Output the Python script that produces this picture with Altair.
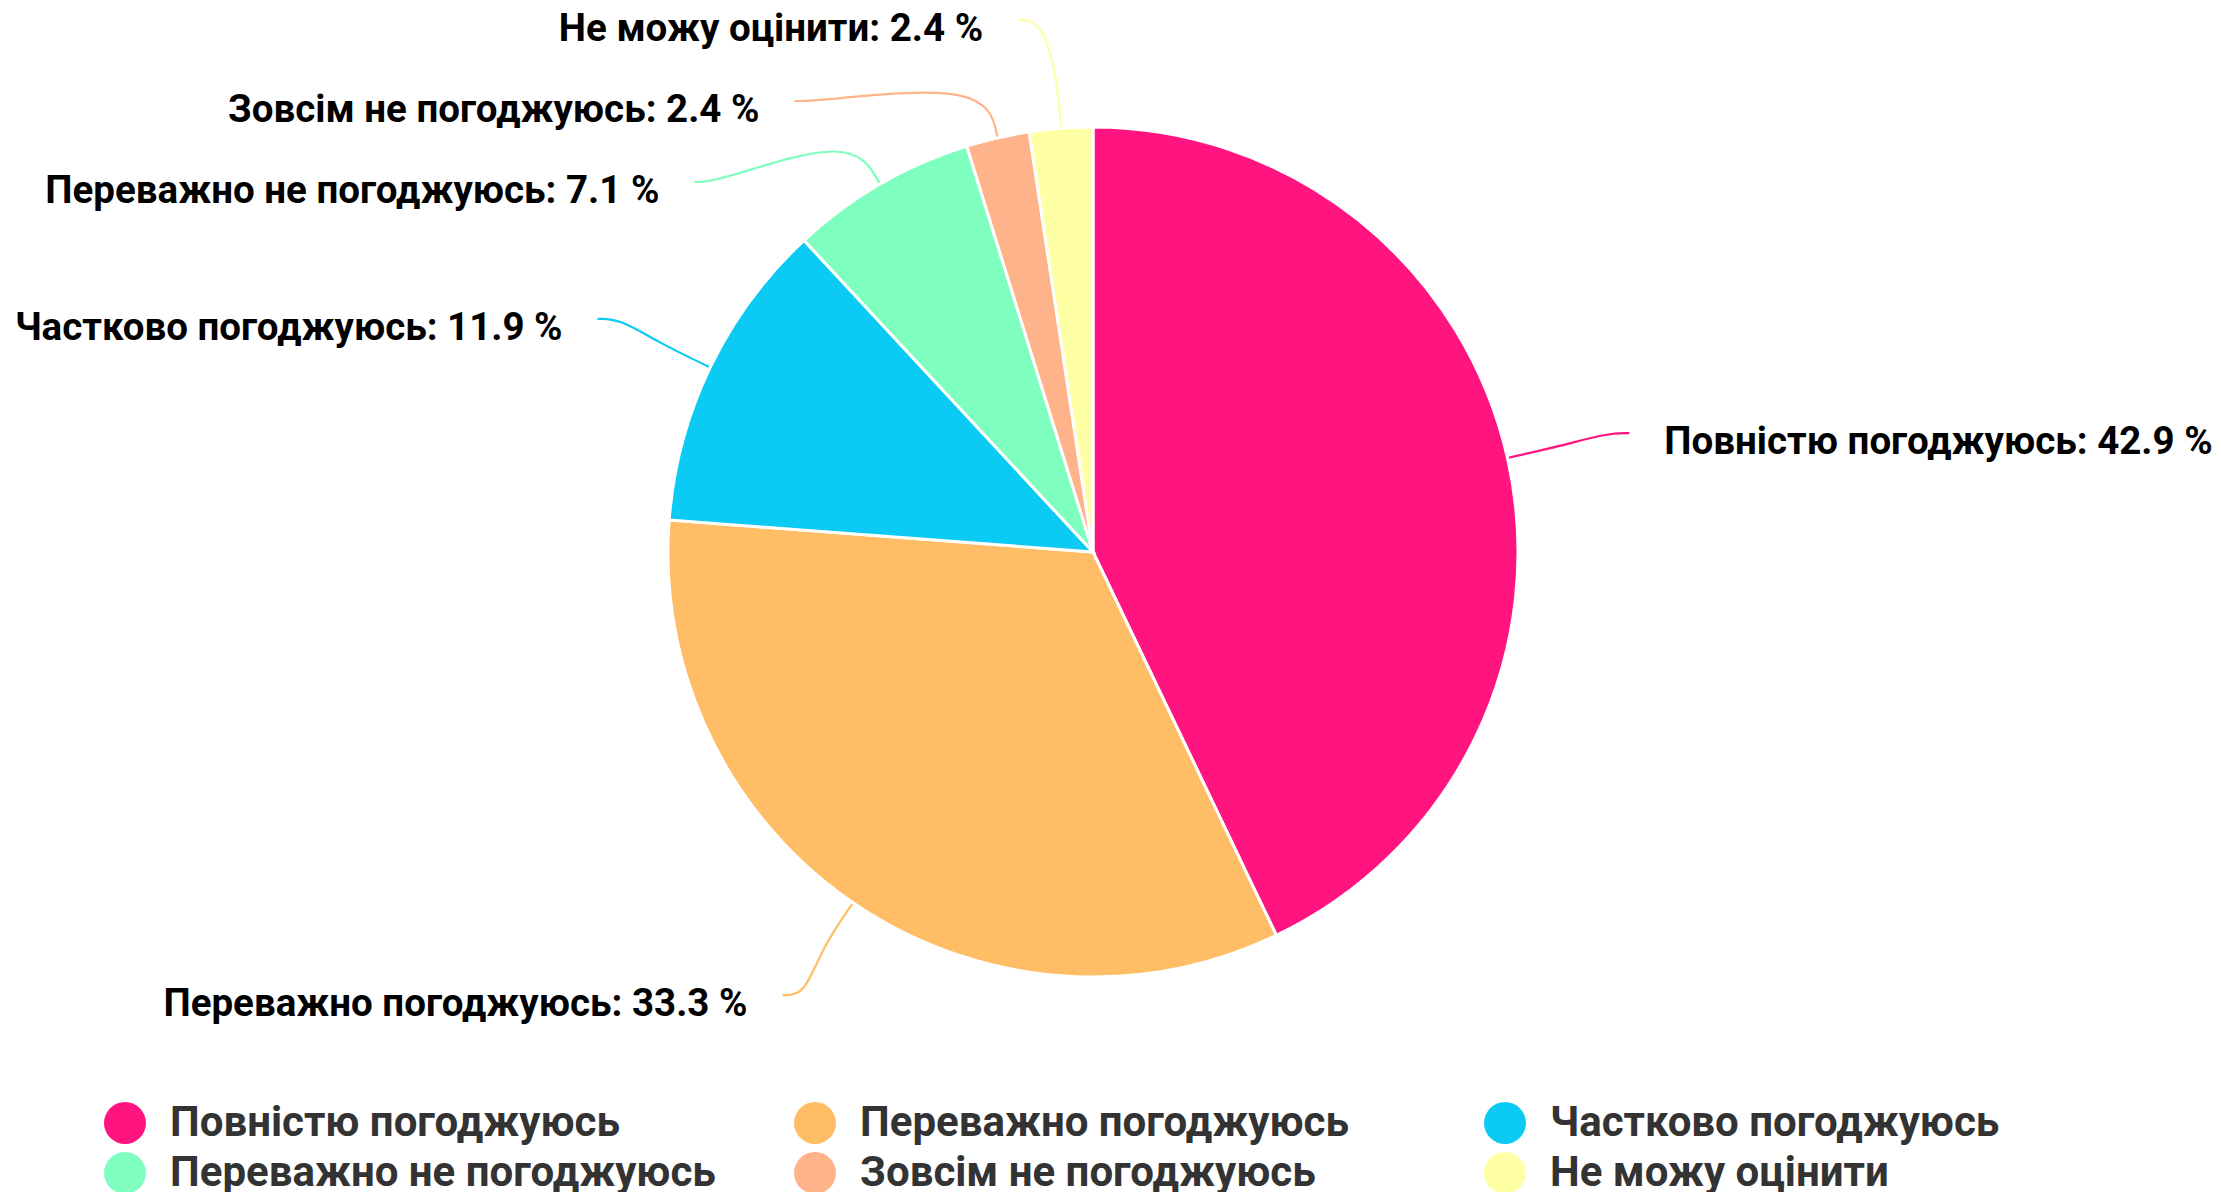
import math
import altair as alt
import pandas as pd

categories = ["Повністю погоджуюсь", "Переважно погоджуюсь", "Частково погоджуюсь",
              "Переважно не погоджуюсь", "Зовсім не погоджуюсь", "Не можу оцінити"]
values = [42.9, 33.3, 11.9, 7.1, 2.4, 2.4]
colors = ["#FF1480", "#FFBE66", "#0BCAF4", "#7FFFBF", "#FFB38A", "#FFFFA6"]

# ---- layout (reference pixel space) ----
M = 8
VW, VH = 2205, 1176
CX, CY, R = 1093, 552, 425          # pie centre / radius
EA, EB = 550, 537                   # ellipse for connector ends
BEND = 28                           # connector break distance
GAP = 35                            # gap between connector end and text
TOP, SPACING = 20, 81               # label distribution
FONT = "Roboto"

total = sum(values)
pie_df = pd.DataFrame({"category": categories, "value": values, "order": range(len(values))})

# compute label placement from the data
rows = []
cum = 0.0
for i, (c, v) in enumerate(zip(categories, values)):
    mid = (cum + v / 2) / total * 2 * math.pi
    cum += v
    s, co = math.sin(mid), math.cos(mid)
    rows.append(dict(category=c, value=v, idx=i, s=s, c=co,
                     side="right" if s > 0 else "left",
                     yE=CY - EB * co))

for side in ("left", "right"):
    grp = sorted([r for r in rows if r["side"] == side], key=lambda r: r["yE"])
    prev = None
    for r in grp:
        y = max(r["yE"], TOP)
        if prev is not None:
            y = max(y, prev + SPACING)
        r["yE"] = y
        prev = y

label_rows, line_rows = [], []
for r in rows:
    sign = 1 if r["side"] == "right" else -1
    dy = (r["yE"] - CY) / EB
    xE = CX + sign * EA * math.sqrt(max(0.0, 1 - dy * dy))
    T = (CX + R * r["s"], CY - R * r["c"])
    Q = (CX + (R + 2 * BEND) * r["s"], CY - (R + 2 * BEND) * r["c"])
    E = (xE, r["yE"])
    E2 = (xE - sign * 22, r["yE"])
    for k, p in enumerate([E, E2, Q, T]):
        line_rows.append(dict(conn=r["category"], k=k, x=p[0], y=p[1]))
    label_rows.append(dict(category=r["category"], side=r["side"],
                           x=xE + sign * GAP, y=r["yE"] + 9,
                           text=f"{r['category']}: {r['value']} %"))

lab_df = pd.DataFrame(label_rows)
line_df = pd.DataFrame(line_rows)

xs = alt.Scale(domain=[M, M + VW], nice=False, zero=False)
ys = alt.Scale(domain=[M, M + VH], nice=False, zero=False, reverse=True)

color_scale = alt.Scale(domain=categories, range=colors)

pie = alt.Chart(pie_df).mark_arc(outerRadius=R, stroke="white", strokeWidth=3).encode(
    theta=alt.Theta("value:Q", stack=True),
    color=alt.Color("category:N", scale=color_scale, sort=categories,
                    legend=alt.Legend(orient="none", legendX=96, legendY=1094, columns=3,
                                      direction="horizontal",
                                      title=None, symbolType="circle", symbolSize=1764,
                                      symbolStrokeWidth=0, labelFont=FONT, labelFontSize=42,
                                      labelFontWeight="bold", labelColor="#333333",
                                      labelOffset=24, columnPadding=78, rowPadding=8,
                                      gridAlign="all", labelLimit=0, padding=0)),
    order=alt.Order("order:Q"),
    x=alt.value(CX - M),
    y=alt.value(CY - M),
)

lines = alt.Chart(line_df).mark_line(interpolate="basis", strokeWidth=2.2).encode(
    x=alt.X("x:Q", scale=xs, axis=None),
    y=alt.Y("y:Q", scale=ys, axis=None),
    stroke=alt.Stroke("conn:N", scale=alt.Scale(domain=categories, range=colors), legend=None),
    detail="conn:N",
    order="k:Q",
)

def text_layer(side, align):
    return alt.Chart(lab_df).transform_filter(alt.datum.side == side).mark_text(
        align=align, baseline="middle", font=FONT, fontSize=38.5, fontWeight="bold", color="#000000"
    ).encode(
        x=alt.X("x:Q", scale=xs, axis=None),
        y=alt.Y("y:Q", scale=ys, axis=None),
        text="text:N",
    )

chart = alt.layer(lines, pie, text_layer("left", "right"), text_layer("right", "left")).properties(
    width=VW, height=VH, padding={"left": 0, "top": 0, "right": 0, "bottom": 8},
    autosize=alt.AutoSizeParams(type="none")
).resolve_legend(stroke="independent").configure_view(stroke=None)

chart.save("out.html", embed_options={"renderer": "svg", "actions": False})
